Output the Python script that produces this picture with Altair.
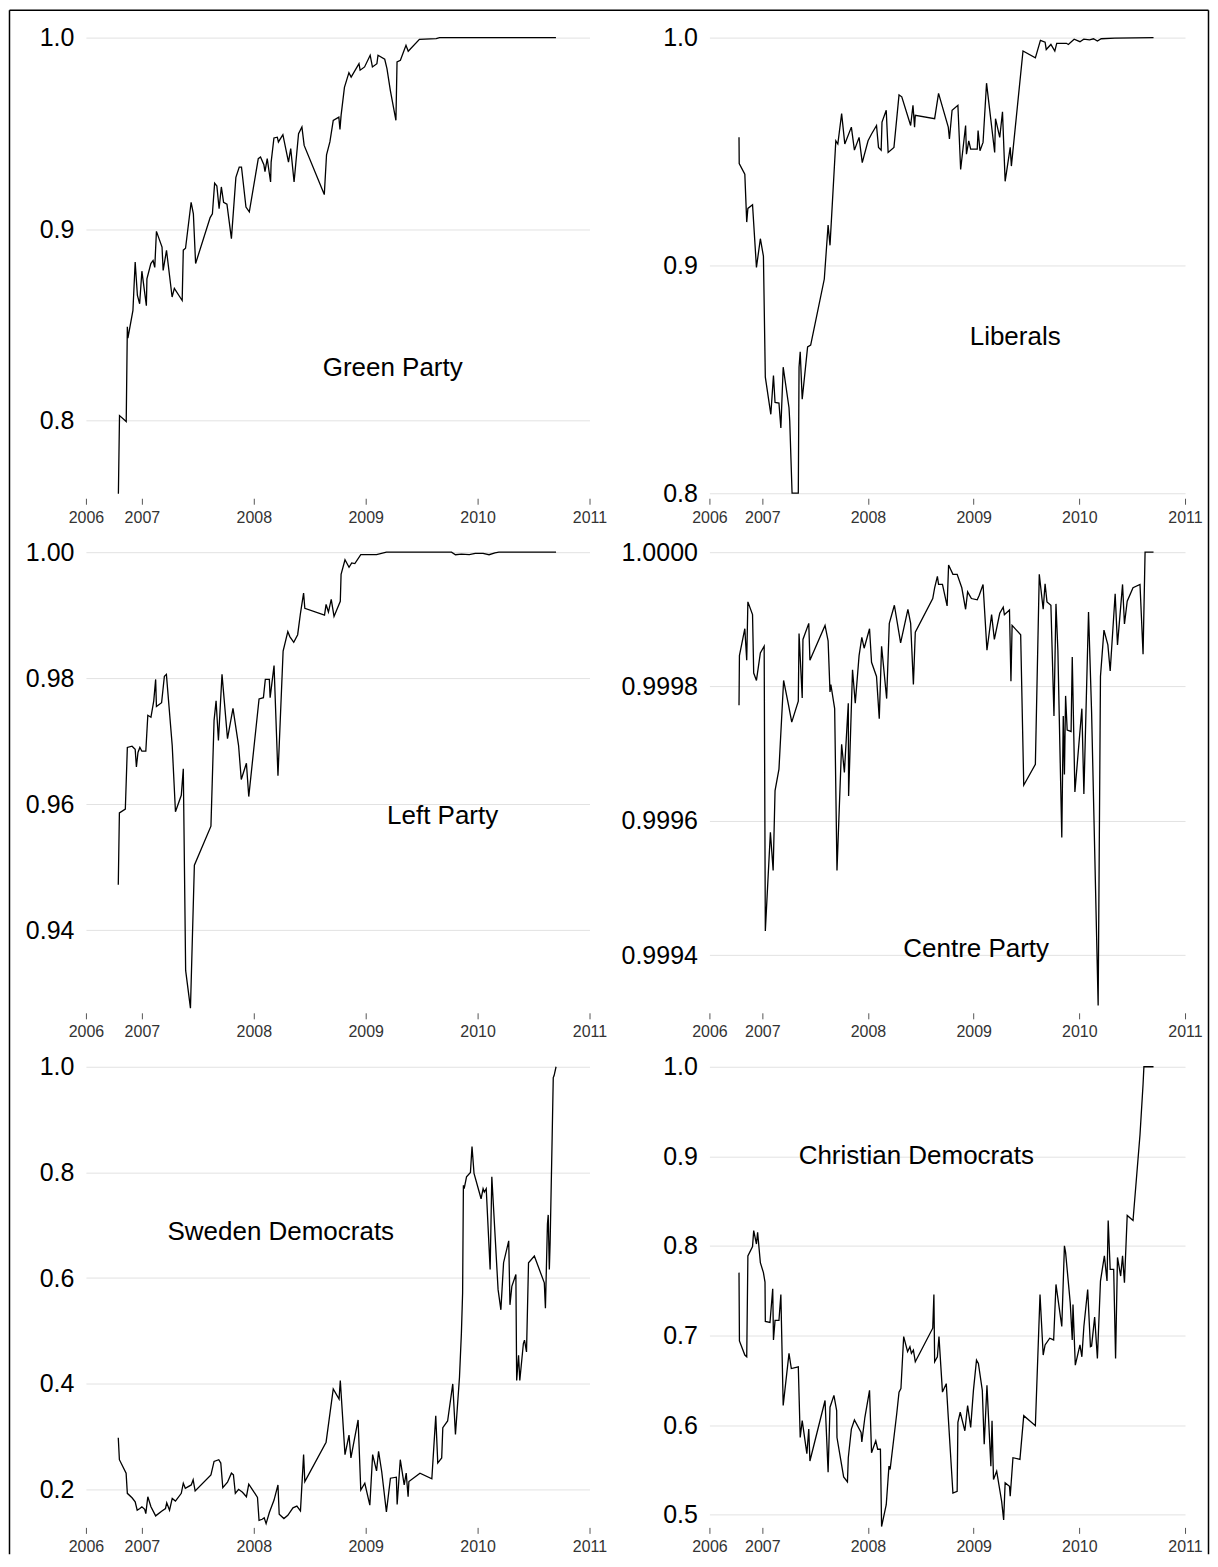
import altair as alt
import pandas as pd

FONT = "Liberation Sans"

# (decimal year, probability)
green_party = [
    (2006.79, 0.7617), (2006.80, 0.8026), (2006.86, 0.7995), (2006.87, 0.849), (2006.875, 0.843),
    (2006.92, 0.8575), (2006.94, 0.8828), (2006.96, 0.8653), (2006.98, 0.861), (2007.00, 0.878),
    (2007.04, 0.860), (2007.045, 0.874), (2007.08, 0.882), (2007.10, 0.8836), (2007.115, 0.880),
    (2007.13, 0.8988), (2007.18, 0.8906), (2007.19, 0.8784), (2007.22, 0.8889), (2007.27, 0.8645),
    (2007.29, 0.869), (2007.36, 0.8627), (2007.37, 0.889), (2007.39, 0.890), (2007.44, 0.914),
    (2007.46, 0.908), (2007.48, 0.882), (2007.61, 0.906), (2007.63, 0.908), (2007.65, 0.924),
    (2007.67, 0.9225), (2007.69, 0.9106), (2007.71, 0.922), (2007.73, 0.914), (2007.76, 0.913),
    (2007.80, 0.895), (2007.84, 0.927), (2007.87, 0.9324), (2007.89, 0.9324), (2007.93, 0.9115),
    (2007.96, 0.909), (2008.04, 0.9368), (2008.06, 0.9376), (2008.09, 0.9336), (2008.10, 0.930),
    (2008.12, 0.9368), (2008.15, 0.9246), (2008.155, 0.935), (2008.18, 0.9476), (2008.21, 0.948),
    (2008.22, 0.9455), (2008.26, 0.9493), (2008.31, 0.935), (2008.33, 0.942), (2008.36, 0.9246),
    (2008.40, 0.9498), (2008.43, 0.9533), (2008.45, 0.9437), (2008.63, 0.918), (2008.65, 0.9388),
    (2008.68, 0.9455), (2008.71, 0.9568), (2008.76, 0.9585), (2008.77, 0.952), (2008.78, 0.9594),
    (2008.81, 0.974), (2008.85, 0.9817), (2008.87, 0.9794), (2008.94, 0.9864), (2008.95, 0.983),
    (2008.99, 0.9847), (2009.04, 0.9908), (2009.06, 0.9847), (2009.10, 0.9864), (2009.11, 0.9908),
    (2009.17, 0.9887), (2009.19, 0.9838), (2009.22, 0.9725), (2009.27, 0.9568), (2009.28, 0.9873),
    (2009.31, 0.9882), (2009.36, 0.996), (2009.38, 0.9929), (2009.48, 0.9991), (2009.63, 0.9995),
    (2009.66, 1.0), (2010.70, 1.0),
]

liberals = [
    (2006.78, 0.9562), (2006.782, 0.9447), (2006.835, 0.940), (2006.853, 0.919), (2006.864, 0.925),
    (2006.908, 0.9266), (2006.945, 0.8991), (2006.982, 0.9117), (2007.011, 0.904), (2007.029, 0.8509),
    (2007.081, 0.8346), (2007.106, 0.8516), (2007.121, 0.8398), (2007.158, 0.8395), (2007.176, 0.8286),
    (2007.198, 0.8553), (2007.253, 0.8375), (2007.26, 0.8316), (2007.282, 0.80), (2007.341, 0.80),
    (2007.348, 0.8553), (2007.359, 0.862), (2007.378, 0.8412), (2007.429, 0.8642), (2007.458, 0.865),
    (2007.587, 0.894), (2007.623, 0.9177), (2007.641, 0.9088), (2007.696, 0.9547), (2007.715, 0.9533),
    (2007.751, 0.9666), (2007.781, 0.9533), (2007.843, 0.9607), (2007.872, 0.9506), (2007.916, 0.9562),
    (2007.946, 0.9451), (2008.001, 0.9547), (2008.034, 0.9577), (2008.081, 0.9614), (2008.1, 0.9518),
    (2008.125, 0.9506), (2008.133, 0.9629), (2008.173, 0.9681), (2008.191, 0.9496), (2008.246, 0.9518),
    (2008.294, 0.9748), (2008.32, 0.974), (2008.404, 0.9614), (2008.426, 0.9703), (2008.441, 0.9607),
    (2008.448, 0.9659), (2008.631, 0.9644), (2008.668, 0.9755), (2008.76, 0.9607), (2008.771, 0.9555),
    (2008.796, 0.9681), (2008.851, 0.9703), (2008.877, 0.9421), (2008.924, 0.9614), (2008.932, 0.9488),
    (2008.954, 0.9547), (2008.972, 0.951), (2009.034, 0.951), (2009.042, 0.9592), (2009.06, 0.9503),
    (2009.089, 0.954), (2009.122, 0.98), (2009.199, 0.9496), (2009.207, 0.9644), (2009.247, 0.9562),
    (2009.273, 0.9674), (2009.298, 0.9369), (2009.346, 0.9518), (2009.357, 0.9436), (2009.467, 0.9941),
    (2009.584, 0.9911), (2009.632, 0.9988), (2009.676, 0.998), (2009.687, 0.9948), (2009.731, 0.997),
    (2009.768, 0.9941), (2009.786, 0.9975), (2009.878, 0.9975), (2009.896, 0.997), (2009.951, 0.9993),
    (2010.006, 0.9982), (2010.042, 0.9993), (2010.097, 0.999), (2010.134, 0.9995), (2010.171, 0.9985),
    (2010.207, 0.9995), (2010.336, 0.9998), (2010.702, 1.0),
]

left_party = [
    (2006.789, 0.9472), (2006.799, 0.9586), (2006.852, 0.9592), (2006.87, 0.969), (2006.912, 0.9692),
    (2006.94, 0.9687), (2006.951, 0.9659), (2006.965, 0.9682), (2006.982, 0.969), (2007.0, 0.9684),
    (2007.035, 0.9684), (2007.053, 0.9741), (2007.081, 0.9738), (2007.106, 0.9764), (2007.123, 0.9798),
    (2007.13, 0.9755), (2007.176, 0.9761), (2007.201, 0.9803), (2007.219, 0.9806), (2007.271, 0.9693),
    (2007.3, 0.9588), (2007.352, 0.9614), (2007.37, 0.9656), (2007.391, 0.9336), (2007.434, 0.9276),
    (2007.469, 0.9503), (2007.617, 0.9565), (2007.645, 0.9733), (2007.663, 0.9764), (2007.684, 0.9701),
    (2007.716, 0.9806), (2007.765, 0.9704), (2007.814, 0.9752), (2007.864, 0.9693), (2007.888, 0.9639),
    (2007.934, 0.9665), (2007.955, 0.9612), (2008.047, 0.9767), (2008.086, 0.9769), (2008.103, 0.9798),
    (2008.139, 0.9798), (2008.146, 0.9769), (2008.181, 0.982), (2008.216, 0.9645), (2008.262, 0.9843),
    (2008.304, 0.9874), (2008.322, 0.9866), (2008.357, 0.9857), (2008.392, 0.9869), (2008.417, 0.9903),
    (2008.445, 0.9935), (2008.456, 0.9911), (2008.632, 0.99), (2008.646, 0.9917), (2008.667, 0.9905),
    (2008.692, 0.9925), (2008.717, 0.9898), (2008.773, 0.9922), (2008.78, 0.9965), (2008.815, 0.9988),
    (2008.851, 0.9976), (2008.875, 0.9983), (2008.903, 0.9982), (2008.956, 0.9996), (2009.097, 0.9996),
    (2009.185, 1.0), (2009.767, 1.0), (2009.802, 0.9996), (2009.855, 0.9997), (2009.926, 0.9996),
    (2009.979, 0.9998), (2010.049, 0.9998), (2010.102, 0.9996), (2010.155, 0.9999), (2010.19, 1.0),
    (2010.701, 1.0),
]

centre_party = [
    (2006.780, 0.999772), (2006.784, 0.999846), (2006.835, 0.999886), (2006.853, 0.999839),
    (2006.864, 0.999926), (2006.908, 0.999907), (2006.919, 0.999820), (2006.945, 0.999809),
    (2006.982, 0.999850), (2007.018, 0.999860), (2007.029, 0.999436), (2007.077, 0.999583),
    (2007.103, 0.999526), (2007.121, 0.999645), (2007.158, 0.999677), (2007.202, 0.999809),
    (2007.249, 0.999772), (2007.279, 0.999747), (2007.341, 0.999778), (2007.348, 0.999879),
    (2007.378, 0.999783), (2007.385, 0.999870), (2007.440, 0.999894), (2007.451, 0.999839),
    (2007.594, 0.999891), (2007.623, 0.999868), (2007.641, 0.999792), (2007.649, 0.999803),
    (2007.685, 0.999767), (2007.707, 0.999526), (2007.751, 0.999714), (2007.777, 0.999672),
    (2007.814, 0.999775), (2007.817, 0.999637), (2007.854, 0.999825), (2007.880, 0.999775),
    (2007.916, 0.999846), (2007.942, 0.999873), (2007.964, 0.999857), (2008.015, 0.999886),
    (2008.034, 0.999836), (2008.081, 0.999815), (2008.107, 0.999752), (2008.129, 0.999860),
    (2008.177, 0.999782), (2008.202, 0.999894), (2008.250, 0.999921), (2008.309, 0.999865),
    (2008.378, 0.999915), (2008.404, 0.999894), (2008.430, 0.999803), (2008.448, 0.999881),
    (2008.613, 0.999931), (2008.631, 0.999947), (2008.657, 0.999964), (2008.668, 0.999952),
    (2008.705, 0.999952), (2008.749, 0.999920), (2008.763, 0.999981), (2008.804, 0.999967),
    (2008.844, 0.999967), (2008.888, 0.999947), (2008.924, 0.999915), (2008.943, 0.999941),
    (2008.979, 0.999931), (2009.034, 0.999929), (2009.053, 0.999936), (2009.089, 0.999952),
    (2009.126, 0.999854), (2009.170, 0.999907), (2009.196, 0.999870), (2009.247, 0.999909),
    (2009.280, 0.999918), (2009.291, 0.999907), (2009.339, 0.999914), (2009.353, 0.999808),
    (2009.364, 0.999891), (2009.445, 0.999877), (2009.474, 0.999653), (2009.584, 0.999684),
    (2009.621, 0.999967), (2009.658, 0.999915), (2009.676, 0.999953), (2009.694, 0.999926),
    (2009.731, 0.999921), (2009.760, 0.999756), (2009.779, 0.999923), (2009.797, 0.999854),
    (2009.834, 0.999575), (2009.848, 0.999756), (2009.859, 0.999669), (2009.870, 0.999786),
    (2009.885, 0.999735), (2009.922, 0.999733), (2009.933, 0.999844), (2009.958, 0.999643),
    (2010.024, 0.999767), (2010.043, 0.999640), (2010.087, 0.999911), (2010.116, 0.999762),
    (2010.178, 0.999325), (2010.200, 0.999815), (2010.233, 0.999884), (2010.270, 0.999862),
    (2010.292, 0.999823), (2010.339, 0.999938), (2010.361, 0.999862), (2010.409, 0.999952),
    (2010.427, 0.999893), (2010.453, 0.999927), (2010.508, 0.999947), (2010.574, 0.999952),
    (2010.603, 0.999848), (2010.622, 1.0), (2010.702, 1.0),
]

sweden_democrats = [
    (2006.789, 0.2975), (2006.799, 0.2561), (2006.859, 0.2306), (2006.870, 0.1924), (2006.912, 0.1840),
    (2006.940, 0.1764), (2006.958, 0.1605), (2006.982, 0.1637), (2007.000, 0.1669), (2007.025, 0.1620),
    (2007.035, 0.1541), (2007.053, 0.1860), (2007.081, 0.1669), (2007.123, 0.1497), (2007.176, 0.1586),
    (2007.211, 0.1637), (2007.222, 0.1745), (2007.247, 0.1605), (2007.271, 0.1828), (2007.300, 0.1777),
    (2007.352, 0.1924), (2007.370, 0.2115), (2007.388, 0.2019), (2007.441, 0.2083), (2007.458, 0.2180),
    (2007.476, 0.1968), (2007.617, 0.2274), (2007.645, 0.2529), (2007.687, 0.2561), (2007.705, 0.2497),
    (2007.723, 0.2032), (2007.765, 0.2134), (2007.800, 0.2306), (2007.818, 0.2274), (2007.835, 0.1924),
    (2007.864, 0.2000), (2007.899, 0.1943), (2007.934, 0.1860), (2007.955, 0.2096), (2007.980, 0.2019),
    (2008.033, 0.1847), (2008.047, 0.1414), (2008.075, 0.1433), (2008.093, 0.1459), (2008.110, 0.1350),
    (2008.139, 0.1560), (2008.181, 0.1796), (2008.216, 0.2083), (2008.227, 0.1528), (2008.269, 0.1446),
    (2008.304, 0.1509), (2008.350, 0.1649), (2008.385, 0.1682), (2008.417, 0.1592), (2008.445, 0.2657),
    (2008.456, 0.2147), (2008.646, 0.2892), (2008.710, 0.3900), (2008.762, 0.3708), (2008.773, 0.4059),
    (2008.815, 0.2657), (2008.851, 0.3026), (2008.868, 0.2593), (2008.896, 0.2912), (2008.932, 0.3313),
    (2008.956, 0.1987), (2008.992, 0.2115), (2009.037, 0.1700), (2009.062, 0.2657), (2009.097, 0.2350),
    (2009.115, 0.2720), (2009.143, 0.2338), (2009.185, 0.1573), (2009.221, 0.2210), (2009.274, 0.2229),
    (2009.281, 0.1713), (2009.309, 0.2561), (2009.344, 0.2083), (2009.362, 0.2306), (2009.379, 0.1860),
    (2009.386, 0.2147), (2009.485, 0.2306), (2009.591, 0.2198), (2009.626, 0.3390), (2009.644, 0.2497),
    (2009.679, 0.2593), (2009.689, 0.3166), (2009.732, 0.3294), (2009.778, 0.3995), (2009.802, 0.3039),
    (2009.838, 0.4123), (2009.855, 0.4951), (2009.866, 0.5716), (2009.873, 0.7756), (2009.880, 0.7692),
    (2009.901, 0.7916), (2009.936, 0.8000), (2009.950, 0.8489), (2009.968, 0.7979), (2010.031, 0.7501),
    (2010.049, 0.7692), (2010.060, 0.7629), (2010.077, 0.7692), (2010.112, 0.6163), (2010.127, 0.7916),
    (2010.183, 0.5780), (2010.208, 0.5398), (2010.232, 0.6290), (2010.278, 0.6704), (2010.289, 0.5493),
    (2010.306, 0.5844), (2010.342, 0.6067), (2010.349, 0.4059), (2010.366, 0.4537), (2010.377, 0.4059),
    (2010.409, 0.4760), (2010.419, 0.4824), (2010.437, 0.4601), (2010.455, 0.6290), (2010.507, 0.6418),
    (2010.596, 0.5908), (2010.606, 0.5429), (2010.624, 0.7023), (2010.631, 0.7195), (2010.641, 0.6163),
    (2010.648, 0.6673), (2010.666, 0.8649), (2010.676, 0.9796), (2010.683, 0.9828), (2010.701, 1.0),
]

christian_democrats = [
    (2006.780, 0.7703), (2006.784, 0.6941), (2006.835, 0.6783), (2006.853, 0.6764), (2006.864, 0.7890),
    (2006.908, 0.7995), (2006.919, 0.8172), (2006.945, 0.8022), (2006.956, 0.8153), (2006.982, 0.7815),
    (2007.011, 0.7703), (2007.026, 0.7598), (2007.029, 0.7158), (2007.073, 0.7147), (2007.099, 0.7523),
    (2007.106, 0.6952), (2007.121, 0.7170), (2007.158, 0.7170), (2007.176, 0.7459), (2007.198, 0.6220),
    (2007.253, 0.6802), (2007.275, 0.6633), (2007.341, 0.6652), (2007.359, 0.5863), (2007.378, 0.6051),
    (2007.422, 0.5683), (2007.440, 0.5957), (2007.451, 0.5601), (2007.594, 0.6276), (2007.623, 0.5477),
    (2007.641, 0.6201), (2007.678, 0.6333), (2007.704, 0.6164), (2007.707, 0.5863), (2007.770, 0.5424),
    (2007.806, 0.5368), (2007.814, 0.5638), (2007.843, 0.5957), (2007.872, 0.6059), (2007.935, 0.5920),
    (2007.942, 0.5815), (2007.971, 0.6089), (2008.015, 0.6389), (2008.034, 0.5694), (2008.074, 0.5826),
    (2008.092, 0.5732), (2008.118, 0.5732), (2008.129, 0.4869), (2008.173, 0.5113), (2008.199, 0.5544),
    (2008.210, 0.5507), (2008.272, 0.6126), (2008.294, 0.6370), (2008.312, 0.6408), (2008.338, 0.6989),
    (2008.375, 0.6821), (2008.397, 0.6877), (2008.411, 0.6802), (2008.430, 0.6839), (2008.448, 0.6708),
    (2008.613, 0.7083), (2008.624, 0.7459), (2008.631, 0.6708), (2008.657, 0.6764), (2008.672, 0.6989),
    (2008.705, 0.6370), (2008.741, 0.6464), (2008.760, 0.6089), (2008.804, 0.5244), (2008.844, 0.5263),
    (2008.851, 0.6032), (2008.873, 0.6145), (2008.917, 0.5938), (2008.943, 0.6220), (2008.972, 0.5976),
    (2008.998, 0.6389), (2009.027, 0.6727), (2009.045, 0.6689), (2009.082, 0.6389), (2009.100, 0.5788),
    (2009.126, 0.6445), (2009.163, 0.5544), (2009.174, 0.6051), (2009.188, 0.5394), (2009.218, 0.5488),
    (2009.265, 0.5150), (2009.284, 0.4944), (2009.298, 0.5357), (2009.339, 0.5319), (2009.346, 0.5207),
    (2009.372, 0.5638), (2009.438, 0.5619), (2009.474, 0.6107), (2009.584, 0.5995), (2009.628, 0.7459),
    (2009.658, 0.6783), (2009.676, 0.6896), (2009.720, 0.6971), (2009.757, 0.6952), (2009.779, 0.7571),
    (2009.834, 0.7102), (2009.859, 0.8003), (2009.870, 0.7928), (2009.914, 0.7365), (2009.933, 0.6952),
    (2009.940, 0.7346), (2009.962, 0.6670), (2010.006, 0.6896), (2010.024, 0.6764), (2010.043, 0.7102),
    (2010.079, 0.7515), (2010.105, 0.6877), (2010.116, 0.6884), (2010.145, 0.7207), (2010.171, 0.6745),
    (2010.200, 0.7609), (2010.237, 0.7890), (2010.262, 0.7609), (2010.273, 0.8285), (2010.292, 0.7740),
    (2010.325, 0.7740), (2010.343, 0.6745), (2010.361, 0.7872), (2010.391, 0.7665), (2010.409, 0.7890),
    (2010.427, 0.7590), (2010.453, 0.8341), (2010.508, 0.8285), (2010.574, 0.9242), (2010.603, 0.9805),
    (2010.611, 1.0), (2010.702, 1.0),
]

x_tick_values = [2006.5, 2007, 2008, 2009, 2010, 2011]
x_tick_labels = ["2006", "2007", "2008", "2009", "2010", "2011"]

# name, series, y domain, y ticks, y format, panel width, label position (px inside plot)
panels = [
    ("Green Party", green_party, [0.7615, 1.0], [0.8, 0.9, 1.0], ".1f", 504, (307, 331)),
    ("Liberals", liberals, [0.7995, 1.0], [0.8, 0.9, 1.0], ".1f", 476, (306, 300)),
    ("Left Party", left_party, [0.9275, 1.0], [0.94, 0.96, 0.98, 1.0], ".2f", 504, (357, 264)),
    ("Centre Party", centre_party, [0.99932, 1.0], [0.9994, 0.9996, 0.9998, 1.0], ".4f", 476, (267, 397)),
    ("Sweden Democrats", sweden_democrats, [0.1355, 1.0], [0.2, 0.4, 0.6, 0.8, 1.0], ".1f", 504, (195, 165)),
    ("Christian Democrats", christian_democrats, [0.4905, 1.0], [0.5, 0.6, 0.7, 0.8, 0.9, 1.0], ".1f", 476, (207, 89)),
]

PANEL_H = 457

label_expr = " : ".join(
    [f"datum.value == {v} ? '{l}'" for v, l in zip(x_tick_values, x_tick_labels)] + ["''"]
)

charts = []
for i, (name, series, ydom, yticks, yfmt, w, (lx, ly)) in enumerate(panels):
    df = pd.DataFrame(series, columns=["year", "prob"])
    xaxis = alt.Axis(
        values=x_tick_values, labelExpr=label_expr, grid=False, domain=False,
        ticks=True, tickSize=6, tickColor="#555555", tickWidth=1, offset=4,
        labelFont=FONT, labelFontSize=16, labelColor="#333333", labelPadding=5,
        labelFlush=False, labelOverlap=False, title=None,
    )
    yaxis = alt.Axis(
        values=yticks, format=yfmt, grid=True, gridColor="#e2e2e2", gridWidth=1,
        domain=False, ticks=False, labelPadding=12, labelFont=FONT,
        labelFontSize=25, labelColor="black", labelFlush=False, labelOverlap=False, title=None,
    )
    line = alt.Chart(df).mark_line(color="black", strokeWidth=1.3).encode(
        x=alt.X("year:Q", scale=alt.Scale(domain=[2006.5, 2011], nice=False, zero=False), axis=xaxis),
        y=alt.Y("prob:Q", scale=alt.Scale(domain=ydom, nice=False, zero=False), axis=yaxis),
    )
    text = alt.Chart(pd.DataFrame({"label": [name]})).mark_text(
        font=FONT, fontSize=26, color="black", align="center", baseline="middle"
    ).encode(text="label:N", x=alt.value(lx), y=alt.value(ly))
    layers = [line, text]
    if i == 0:
        frame = pd.DataFrame({"k": [0]})
        rule_style = dict(color="black", strokeWidth=1.5)
        top = alt.Chart(frame).mark_rule(**rule_style).encode(
            x=alt.value(-76.5), x2=alt.value(1123.5), y=alt.value(-27.5))
        left = alt.Chart(frame).mark_rule(**rule_style).encode(
            x=alt.value(-76.5), y=alt.value(-27.5), y2=alt.value(1518))
        right = alt.Chart(frame).mark_rule(**rule_style).encode(
            x=alt.value(1123.5), y=alt.value(-27.5), y2=alt.value(1518))
        layers += [top, left, right]
    charts.append(alt.layer(*layers).properties(width=w, height=PANEL_H))

chart = alt.concat(
    *charts, columns=2, spacing={"row": 58, "column": 120}, bounds="flush"
).properties(padding=0, background="white").configure_view(stroke=None)

chart.save("out.html", embed_options={"renderer": "svg", "actions": False})
